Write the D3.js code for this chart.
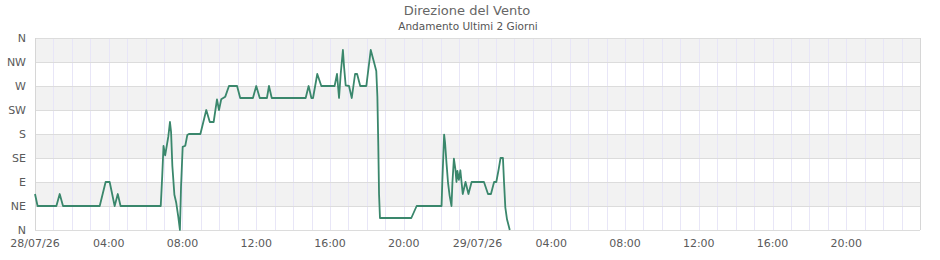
<!DOCTYPE html>
<html>
<head>
<meta charset="utf-8">
<script src="https://cdn.jsdelivr.net/npm/d3@7"></script>
<style>
  body { margin: 0; background: #fff; }
  text { font-family: "DejaVu Sans", sans-serif; }
</style>
</head>
<body>
<script>
// ore dalla mezzanotte del 28/07/26
var hours = [0.00, 0.14, 1.16, 1.34, 1.52, 3.51, 3.83, 4.05, 4.32, 4.49, 4.64, 6.82, 6.90, 6.97, 7.06, 7.23, 7.32, 7.38, 7.45, 7.56,
  7.66, 7.77, 7.86, 7.92, 8.01, 8.15, 8.26, 8.35, 8.97, 9.29, 9.48, 9.69, 9.87, 9.98, 10.10, 10.32, 10.52, 10.96, 11.13, 11.82,
  12.00, 12.19, 12.58, 12.69, 12.84, 14.68, 14.84, 14.99, 15.08, 15.31, 15.53, 16.25, 16.38, 16.49, 16.58, 16.70, 16.76, 16.85, 17.03, 17.18,
  17.36, 17.47, 17.64, 17.97, 18.21, 18.37, 18.51, 18.57, 18.62, 18.66, 18.71, 20.41, 20.70, 22.05, 22.09, 22.19, 22.24, 22.32, 22.40, 22.49,
  22.59, 22.64, 22.72, 22.80, 22.86, 22.91, 22.99, 23.07, 23.20, 23.35, 23.51, 23.68, 24.35, 24.57, 24.73, 24.90, 25.02, 25.15, 25.25, 25.38,
  25.44, 25.51, 25.60, 25.75];

// direzione in gradi
var degrees = [67.5, 45, 45, 67.5, 45, 45, 90, 90, 45, 67.5, 45, 45, 101, 157.5, 140, 175, 202.5, 184, 120, 66,
  51, 25, 0, 81, 156, 158, 178, 180, 180, 225, 202.5, 202.5, 245, 225, 245, 250, 270, 270, 247.5, 247.5,
  270, 247.5, 247.5, 270, 247.5, 247.5, 270, 247.5, 247.5, 292.5, 270, 270, 292.5, 247.5, 292.5, 337.5, 307, 271, 270, 247.5,
  292.5, 292.5, 270, 270, 337.5, 317, 298, 250, 157, 67, 22.5, 22.5, 45, 45, 89, 179, 164, 125, 89, 64,
  45, 89, 134, 114, 90, 111, 94, 112, 67.5, 90, 67.5, 90, 90, 67.5, 67.5, 90, 90, 114, 135, 135,
  89, 42, 20, 0];

var dirLabels = ["N", "NE", "E", "SE", "S", "SW", "W", "NW", "N"];
var dirValues = [0, 45, 90, 135, 180, 225, 270, 315, 360];

var title = "Direzione del Vento";
var subtitle = "Andamento Ultimi 2 Giorni";

var width = 940, height = 260;
var margin = { top: 38, right: 20, bottom: 30, left: 35 };

var start = new Date(2026, 6, 28, 0, 0);
var end = new Date(2026, 6, 30, 0, 0);

var data = hours.map(function (h, i) {
  return { t: new Date(start.getTime() + h * 3600000), v: degrees[i] };
});

var svg = d3.select("body").append("svg")
  .attr("width", width)
  .attr("height", height);

var x = d3.scaleTime()
  .domain([start, end])
  .range([margin.left, width - margin.right]);

var y = d3.scaleLinear()
  .domain([0, 360])
  .range([height - margin.bottom, margin.top]);

// bande alternate
svg.append("g").selectAll("rect")
  .data(d3.range(dirValues.length - 1))
  .enter().append("rect")
  .attr("x", margin.left)
  .attr("width", x(end) - margin.left)
  .attr("y", function (i) { return y(dirValues[i + 1]); })
  .attr("height", function (i) { return y(dirValues[i]) - y(dirValues[i + 1]); })
  .attr("fill", function (i) { return i % 2 === 1 ? "#f2f2f2" : "#fff"; });

// griglia verticale ogni ora
svg.append("g").selectAll("line")
  .data(d3.timeHour.range(d3.timeHour.offset(start, 1), end))
  .enter().append("line")
  .attr("x1", function (d) { return Math.round(x(d)) + 0.5; })
  .attr("x2", function (d) { return Math.round(x(d)) + 0.5; })
  .attr("y1", margin.top)
  .attr("y2", y(0))
  .attr("stroke", "#e8e6f7")
  .attr("stroke-width", 1);

// griglia orizzontale
svg.append("g").selectAll("line")
  .data(dirValues)
  .enter().append("line")
  .attr("x1", margin.left)
  .attr("x2", x(end))
  .attr("y1", function (d) { return Math.round(y(d)) + 0.5; })
  .attr("y2", function (d) { return Math.round(y(d)) + 0.5; })
  .attr("stroke", "#dcdcdc")
  .attr("stroke-width", 1);

// bordi
svg.append("line")
  .attr("x1", margin.left + 0.5).attr("x2", margin.left + 0.5)
  .attr("y1", margin.top).attr("y2", y(0))
  .attr("stroke", "#d6d6d6");
svg.append("line")
  .attr("x1", Math.round(x(end)) + 0.5).attr("x2", Math.round(x(end)) + 0.5)
  .attr("y1", margin.top).attr("y2", y(0))
  .attr("stroke", "#d6d6d6");

// asse Y
svg.append("g").selectAll("text")
  .data(dirValues)
  .enter().append("text")
  .attr("x", 26)
  .attr("y", function (d) { return y(d); })
  .attr("dy", "0.35em")
  .attr("text-anchor", "end")
  .attr("font-size", 11)
  .attr("fill", "#5a5a5a")
  .text(function (d, i) { return dirLabels[i]; });

// asse X
var fmtDay = d3.timeFormat("%d/%m/%y"), fmtHour = d3.timeFormat("%H:%M");
svg.append("g").selectAll("text")
  .data(d3.timeHour.every(4).range(start, end))
  .enter().append("text")
  .attr("x", function (d) { return x(d); })
  .attr("y", y(0) + 13)
  .attr("dy", "0.35em")
  .attr("text-anchor", "middle")
  .attr("font-size", 11)
  .attr("fill", "#5a5a5a")
  .text(function (d) { return d.getHours() === 0 ? fmtDay(d) : fmtHour(d); });

// linea
var line = d3.line()
  .x(function (d) { return x(d.t); })
  .y(function (d) { return y(d.v); });

svg.append("path")
  .datum(data)
  .attr("fill", "none")
  .attr("stroke", "#3a876c")
  .attr("stroke-width", 1.8)
  .attr("stroke-linejoin", "round")
  .attr("d", line);

// titoli
svg.append("text")
  .attr("x", 467).attr("y", 15)
  .attr("text-anchor", "middle")
  .attr("font-size", 13)
  .attr("fill", "#666")
  .text(title);
svg.append("text")
  .attr("x", 468).attr("y", 30)
  .attr("text-anchor", "middle")
  .attr("font-size", 10.5)
  .attr("fill", "#555")
  .text(subtitle);
</script>
</body>
</html>
